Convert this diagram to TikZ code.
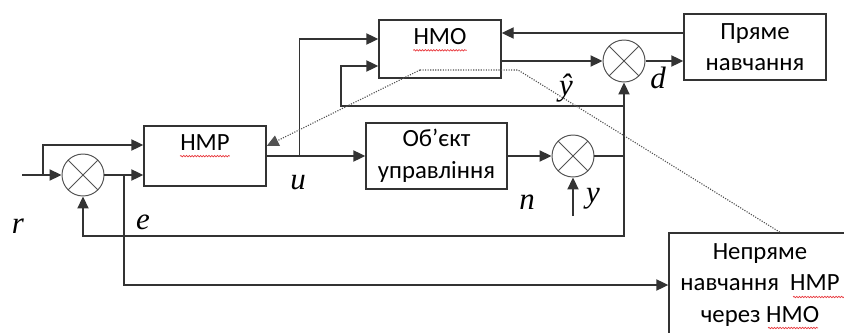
\documentclass[tikz,border=0pt]{standalone}
\usepackage{fontspec}
\setmainfont{Carlito}
\newfontfamily\labfont{Liberation Serif}
\usetikzlibrary{arrows.meta,decorations.pathmorphing}
\definecolor{NNLine}{HTML}{333333}
\definecolor{NNSpell}{HTML}{E8383D}
\tikzset{
  blk/.style={draw=NNLine,line width=1pt,align=center,inner sep=0pt,font=\fontsize{17.6}{22.5}\selectfont},
  txt/.style={inner sep=0pt,font=\fontsize{17.6}{22.5}\selectfont},
  sumj/.style={circle,draw=NNLine!85,line width=0.7pt,minimum size=1.05cm,inner sep=0pt,
    path picture={\draw[NNLine!85,line width=0.6pt] (path picture bounding box.north west) -- (path picture bounding box.south east)
      (path picture bounding box.north east) -- (path picture bounding box.south west);}},
  wire/.style={NNLine,line width=1pt},
  sig/.style={wire,-{Triangle[length=0.3cm,width=0.28cm]}},
  dots/.style={NNLine!85,line width=0.8pt,densely dotted},
  lab/.style={inner sep=0pt,font=\labfont\itshape\fontsize{22}{22}\selectfont},
  spell/.style={NNSpell,line width=0.5pt,decorate,decoration={snake,amplitude=0.5pt,segment length=2pt}}
}
\begin{document}
\begin{tikzpicture}[x=1cm,y=1cm]
\useasboundingbox (0,0) rectangle (21.10,8.30);
\clip (0,0) rectangle (21.10,8.30);
\node[blk,minimum width=3.05cm,minimum height=1.45cm] (hmo) at (11.00,7.075) {};
\node[txt] (hmoT) at ([yshift=0.30cm]hmo.center) {НМО};
\node[blk,minimum width=3.05cm,minimum height=1.50cm] (hmp) at (5.125,4.40) {};
\node[txt] (hmpT) at ([yshift=0.325cm]hmp.center) {НМР};
\node[blk,minimum width=3.525cm,minimum height=1.65cm] (obj) at (10.9125,4.40) {Об’єкт\\управління};
\node[blk,minimum width=3.55cm,minimum height=1.65cm] (pryame) at (18.875,7.125) {Пряме\\навчання};
\node[blk,minimum width=4.55cm,minimum height=2.60cm] (nepr) at (19.00,1.175) {Непряме\\навчання\ \ НМР\\через НМО};
\node[sumj] (sumL) at (2.075,3.925) {};
\node[sumj] (sumY) at (14.325,4.40) {};
\node[sumj] (sumD) at (15.60,6.775) {};
\coordinate (rin) at (0.55,3.925);
\coordinate (rsplit) at (1.075,3.925);
\coordinate (esplit) at (3.10,3.925);
\coordinate (usplit) at ([xshift=0.825cm]hmp.east);
\coordinate (yin) at (14.325,2.90);
\coordinate (fb) at (15.60,2.40);
\coordinate (ytapL) at (8.525,5.65);
\coordinate (yj) at (sumY.east -| sumD.south);
\coordinate (dA) at (10.50,6.55);
\coordinate (dB) at (12.95,6.55);
\draw[sig] (rin) -- (sumL.west);
\draw[sig] (rsplit) |- ([yshift=0.275cm]hmp.west);
\draw[sig] (sumL.east) -- (sumL.east -| hmp.west);
\draw[sig] (esplit) |- (nepr.west);
\draw[sig] (hmp.east) -- (obj.west);
\draw[sig] (usplit) |- ([yshift=0.25cm]hmo.west);
\draw[sig] (obj.east) -- (sumY.west);
\draw[sig] (yin) -- (sumY.south);
\draw[sig] (sumY.east) -| (sumD.south);
\draw[sig] (yj) -- (fb) -| (sumL.south);
\draw[sig] (sumD |- ytapL) -- (ytapL) |- ([yshift=-0.425cm]hmo.west);
\draw[sig] (hmo.east |- sumD) -- (sumD.west);
\draw[sig] (sumD.east) -- (sumD.east -| pryame.west);
\draw[sig] ([yshift=0.35cm]pryame.west) -- ([yshift=0.35cm]pryame.west -| hmo.east);
\draw[dots] (dA) -- (dB) -- ([xshift=0.5cm]nepr.north);
\draw[dots,-{Triangle[length=0.3cm,width=0.28cm]}] (dA) -- ([yshift=0.25cm]hmp.east);
\draw[spell] ([yshift=-3.5pt]hmoT.south west) -- ([yshift=-3.5pt]hmoT.south east);
\draw[spell] ([yshift=-3.5pt]hmpT.south west) -- ([yshift=-3.5pt]hmpT.south east);
\draw[spell] (19.825,0.875) -- (21.10,0.875);
\draw[spell] (19.20,0.10) -- (20.45,0.10);
\node[lab] (lr) at (0.45,2.65) {r};
\node[lab] (le) at (3.575,2.75) {e};
\node[lab] (lu) at (7.45,3.725) {u};
\node[lab] (ln) at (13.175,3.25) {n};
\node[lab] (ly) at (14.825,3.325) {y};
\node[lab] (lyhat) at (14.15,6.10) {ŷ};
\node[lab] (ld) at (16.45,6.35) {d};
\end{tikzpicture}
\end{document}
